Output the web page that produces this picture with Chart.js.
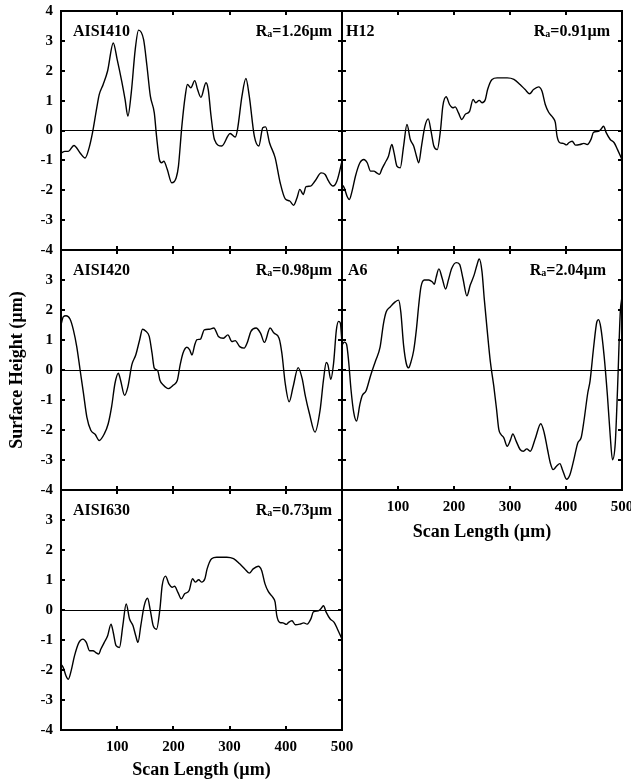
<!DOCTYPE html>
<html>
<head>
<meta charset="utf-8">
<script src="https://cdn.jsdelivr.net/npm/chart.js@4.4.1/dist/chart.umd.min.js"></script>
<style>
  body { margin: 0; background: #fff; }
  #wrap { position: relative; width: 631px; height: 782px; }
  canvas { position: absolute; left: 0; top: 0; }
</style>
</head>
<body>
<div id="wrap">
  <canvas id="c410" width="631" height="782"></canvas>
  <canvas id="cH12" width="631" height="782"></canvas>
  <canvas id="c420" width="631" height="782"></canvas>
  <canvas id="cA6" width="631" height="782"></canvas>
  <canvas id="c630" width="631" height="782"></canvas>
</div>
<script>
// panel names and roughness values
var panelNames = ['AISI410', 'H12', 'AISI420', 'A6', 'AISI630'];
var raValues = ['1.26', '0.91', '0.98', '2.04', '0.73'];

// inner tick marks
var xTickValues = [100, 200, 300, 400];
var yTickValues = [-3, -2, -1, 0, 1, 2, 3];

// profiles (scan length in µm, height in µm)
var aisi410X = [0, 7, 13, 23, 34, 43, 50, 56, 64, 68, 75, 83, 93, 100, 108, 114, 119, 125, 132, 138, 147, 153, 159, 166, 170, 175, 179, 183, 189, 197, 205, 209, 215, 221, 225, 231, 238, 243, 249, 258, 262, 267, 273, 286, 301, 310, 314, 322, 329, 335, 344, 352, 359, 364, 371, 381, 390, 399, 407, 414, 420, 425, 431, 436, 444, 452, 463, 470, 476, 484, 491, 500];
var aisi410Y = [-0.75, -0.7, -0.7, -0.5, -0.75, -0.92, -0.58, -0.08, 0.8, 1.2, 1.54, 2.0, 2.93, 2.37, 1.65, 1.04, 0.48, 1.26, 2.7, 3.36, 3.04, 2.15, 1.15, 0.59, -0.19, -0.97, -1.08, -1.03, -1.3, -1.75, -1.58, -1.19, 0.14, 1.15, 1.54, 1.43, 1.67, 1.37, 1.11, 1.6, 1.37, 0.48, -0.3, -0.52, -0.1, -0.22, 0.03, 1.15, 1.74, 1.15, -0.19, -0.52, 0.09, 0.12, -0.41, -0.91, -1.75, -2.29, -2.36, -2.5, -2.25, -1.97, -2.14, -1.88, -1.86, -1.69, -1.42, -1.47, -1.69, -1.86, -1.69, -1.03];

var h12X = [0, 4, 9, 13, 18, 24, 32, 39, 45, 51, 57, 62, 67, 71, 77, 83, 89, 93, 98, 104, 110, 116, 122, 128, 133, 137, 142, 148, 154, 159, 164, 170, 176, 180, 186, 192, 198, 202, 208, 214, 220, 228, 234, 239, 245, 250, 256, 260, 268, 277, 295, 307, 318, 327, 335, 342, 351, 357, 363, 369, 377, 381, 384, 389, 395, 401, 405, 411, 417, 425, 432, 438, 445, 449, 458, 462, 467, 472, 479, 486, 492, 500];
var h12Y = [-1.81, -1.92, -2.2, -2.31, -2.03, -1.53, -1.08, -0.97, -1.08, -1.36, -1.36, -1.42, -1.47, -1.3, -1.08, -0.86, -0.47, -0.75, -1.19, -1.25, -0.52, 0.2, -0.3, -0.52, -0.86, -1.08, -0.52, 0.14, 0.39, -0.02, -0.52, -0.64, 0.03, 0.81, 1.13, 0.87, 0.76, 0.79, 0.59, 0.37, 0.54, 0.65, 1.04, 0.93, 1.01, 0.93, 1.04, 1.37, 1.71, 1.76, 1.76, 1.71, 1.54, 1.37, 1.23, 1.37, 1.46, 1.32, 0.87, 0.61, 0.42, 0.26, -0.19, -0.41, -0.43, -0.48, -0.41, -0.36, -0.49, -0.47, -0.43, -0.47, -0.28, -0.06, -0.03, 0.03, 0.14, -0.08, -0.3, -0.41, -0.64, -0.97];

var aisi420X = [0, 4, 9, 16, 22, 28, 34, 40, 46, 53, 61, 68, 77, 84, 90, 96, 102, 106, 113, 119, 126, 133, 140, 145, 151, 157, 162, 166, 172, 176, 182, 191, 200, 207, 212, 217, 224, 229, 233, 238, 242, 248, 255, 264, 272, 280, 289, 297, 304, 310, 318, 326, 331, 338, 347, 355, 362, 372, 379, 388, 393, 399, 406, 413, 422, 429, 435, 442, 452, 461, 467, 472, 475, 480, 485, 490, 494, 497, 500];
var aisi420Y = [1.51, 1.77, 1.81, 1.7, 1.34, 0.78, 0, -0.78, -1.57, -2.01, -2.15, -2.35, -2.13, -1.79, -1.23, -0.45, -0.11, -0.34, -0.84, -0.56, 0.17, 0.5, 1.01, 1.36, 1.29, 1.12, 0.56, 0.06, -0.02, -0.34, -0.5, -0.62, -0.5, -0.34, 0.17, 0.56, 0.76, 0.67, 0.5, 0.84, 1.01, 1.03, 1.34, 1.36, 1.4, 1.12, 1.06, 1.17, 0.95, 0.98, 0.78, 0.73, 0.89, 1.29, 1.4, 1.23, 0.92, 1.4, 1.23, 1.06, 0.56, -0.45, -1.06, -0.56, 0.08, -0.28, -0.89, -1.45, -2.07, -1.34, -0.34, 0.25, 0.17, -0.31, 0.22, 1.34, 1.62, 1.57, 0.89];

var a6X = [0, 4, 8, 12, 16, 21, 26, 32, 36, 43, 51, 60, 68, 74, 79, 86, 95, 101, 105, 110, 115, 119, 123, 128, 133, 137, 141, 147, 155, 161, 165, 168, 173, 179, 185, 190, 196, 204, 210, 216, 223, 229, 236, 241, 245, 250, 254, 259, 265, 271, 276, 280, 284, 289, 295, 301, 305, 311, 318, 324, 330, 336, 345, 355, 361, 367, 372, 377, 383, 389, 394, 401, 407, 414, 421, 427, 432, 439, 443, 449, 455, 458, 462, 468, 474, 479, 483, 488, 492, 497, 500];
var a6Y = [0.82, 0.93, 0.87, 0.26, -0.64, -1.42, -1.7, -1.14, -0.86, -0.69, -0.19, 0.31, 0.76, 1.54, 1.94, 2.1, 2.27, 2.33, 1.94, 0.82, 0.2, 0.07, 0.26, 0.65, 1.38, 2.16, 2.77, 3.0, 3.0, 2.94, 2.86, 3.08, 3.37, 3.05, 2.7, 3.0, 3.39, 3.58, 3.52, 3.05, 2.47, 2.83, 3.17, 3.5, 3.7, 3.28, 2.38, 1.38, 0.26, -0.53, -1.31, -1.98, -2.15, -2.26, -2.54, -2.32, -2.13, -2.37, -2.65, -2.71, -2.63, -2.71, -2.29, -1.79, -2.09, -2.65, -3.1, -3.32, -3.21, -3.12, -3.34, -3.64, -3.49, -2.99, -2.43, -2.26, -1.7, -0.75, -0.36, 0.7, 1.6, 1.68, 1.43, 0.48, -0.86, -2.2, -2.99, -2.43, -0.64, 1.94, 2.44];

// the AISI630 profile in the figure is the same trace as H12
var aisi630X = h12X;
var aisi630Y = h12Y;

Chart.defaults.font.family = '"Liberation Serif", "Times New Roman", serif';
Chart.defaults.font.weight = 'bold';
Chart.defaults.color = '#000';

function toPoints(xs, ys) {
    let pts = [];
    for (let i = 0; i < xs.length; i++) {
        pts.push({ x: xs[i], y: ys[i] });
    }
    return pts;
}

// keep tick labels from pushing the plot area around
function noLabelPadding(s) {
    s.paddingLeft = 0;
    s.paddingRight = 0;
    s.paddingTop = 0;
    s.paddingBottom = 0;
}

// frame, inner ticks and panel labels
const framePlugin = {
    id: 'frame',
    afterDatasetsDraw(chart, args, opts) {
        const ctx = chart.ctx;
        const a = chart.chartArea;
        const xs = chart.scales.x;
        const ys = chart.scales.y;
        ctx.save();
        ctx.strokeStyle = '#000';
        ctx.lineWidth = 2;
        ctx.beginPath();
        xTickValues.forEach(v => {
            const px = Math.round(xs.getPixelForValue(v));
            ctx.moveTo(px, a.top);
            ctx.lineTo(px, a.top + 4);
            ctx.moveTo(px, a.bottom);
            ctx.lineTo(px, a.bottom - 4);
        });
        yTickValues.forEach(v => {
            const py = Math.round(ys.getPixelForValue(v));
            ctx.moveTo(a.left, py);
            ctx.lineTo(a.left + 4, py);
            ctx.moveTo(a.right, py);
            ctx.lineTo(a.right - 4, py);
        });
        ctx.stroke();
        ctx.strokeRect(a.left, a.top, a.right - a.left, a.bottom - a.top);

        // sample name and Ra value
        const by = a.top + 25;
        ctx.fillStyle = '#000';
        ctx.textBaseline = 'alphabetic';
        ctx.font = 'bold 16px "Liberation Serif"';
        ctx.textAlign = 'left';
        ctx.fillText(opts.name, a.left + opts.nameOff, by);
        ctx.textAlign = 'right';
        const rest = '=' + opts.ra + 'µm';
        let x = a.right - opts.raOff;
        ctx.fillText(rest, x, by);
        x -= ctx.measureText(rest).width;
        ctx.font = 'bold 10px "Liberation Serif"';
        ctx.fillText('a', x, by + 1);
        x -= ctx.measureText('a').width;
        ctx.font = 'bold 16px "Liberation Serif"';
        ctx.fillText('R', x, by);
        ctx.restore();
    }
};

function makePanel(p) {
    new Chart(document.getElementById(p.id), {
        type: 'line',
        data: {
            datasets: [{
                data: toPoints(p.xs, p.ys),
                borderColor: '#000',
                borderWidth: 1.4,
                pointRadius: 0,
                cubicInterpolationMode: 'monotone',
                fill: false
            }]
        },
        options: {
            responsive: false,
            animation: false,
            devicePixelRatio: 1,
            layout: { padding: p.pad },
            plugins: {
                legend: { display: false },
                tooltip: { enabled: false },
                frame: { name: p.name, ra: p.ra, nameOff: p.nameOff, raOff: p.raOff }
            },
            scales: {
                x: {
                    type: 'linear',
                    min: 0,
                    max: 500,
                    grid: { display: false },
                    border: { display: false },
                    ticks: {
                        display: p.xLabels,
                        stepSize: 100,
                        padding: 0,
                        maxRotation: 0,
                        font: { size: 15, weight: 'bold' },
                        callback: v => (v === 0 ? '' : v)
                    },
                    title: {
                        display: p.xLabels,
                        text: 'Scan Length (µm)',
                        font: { size: 18, weight: 'bold' },
                        padding: { top: 0, bottom: 1 }
                    },
                    afterFit: s => {
                        s.height = p.xLabels ? p.xHeight : 0;
                        noLabelPadding(s);
                    }
                },
                y: {
                    min: -4,
                    max: 4,
                    border: { display: false },
                    grid: {
                        drawTicks: false,
                        lineWidth: 1,
                        color: c => (c.tick && c.tick.value === 0 ? '#000' : 'rgba(0,0,0,0)')
                    },
                    ticks: {
                        display: p.yLabels,
                        stepSize: 1,
                        padding: 8,
                        font: { size: 15, weight: 'bold' },
                        callback: v => (v === 4 && !p.top4 ? '' : v)
                    },
                    title: {
                        display: p.yTitle,
                        text: 'Surface Height (µm)',
                        font: { size: 18, weight: 'bold' },
                        padding: { top: 7, bottom: 0 }
                    },
                    afterFit: s => {
                        s.width = p.yLabels ? 61 : 0;
                        noLabelPadding(s);
                    }
                }
            }
        },
        plugins: [framePlugin]
    });
}

makePanel({ id: 'c410', name: panelNames[0], ra: raValues[0], xs: aisi410X, ys: aisi410Y,
    pad: { left: 0, right: 289, top: 11, bottom: 532 }, yLabels: true, top4: true, xLabels: false,
    yTitle: false, nameOff: 12, raOff: 10 });
makePanel({ id: 'cH12', name: panelNames[1], ra: raValues[1], xs: h12X, ys: h12Y,
    pad: { left: 342, right: 9, top: 11, bottom: 532 }, yLabels: false, top4: true, xLabels: false,
    yTitle: false, nameOff: 4, raOff: 12 });
makePanel({ id: 'c420', name: panelNames[2], ra: raValues[2], xs: aisi420X, ys: aisi420Y,
    pad: { left: 0, right: 289, top: 250, bottom: 292 }, yLabels: true, top4: false, xLabels: false,
    yTitle: true, nameOff: 12, raOff: 10 });
makePanel({ id: 'cA6', name: panelNames[3], ra: raValues[3], xs: a6X, ys: a6Y,
    pad: { left: 342, right: 9, top: 250, bottom: 238 }, yLabels: false, top4: false, xLabels: true,
    xHeight: 54, yTitle: false, nameOff: 6, raOff: 16 });
makePanel({ id: 'c630', name: panelNames[4], ra: raValues[4], xs: aisi630X, ys: aisi630Y,
    pad: { left: 0, right: 289, top: 490, bottom: 0 }, yLabels: true, top4: false, xLabels: true,
    xHeight: 52, yTitle: false, nameOff: 12, raOff: 10 });
</script>
</body>
</html>
